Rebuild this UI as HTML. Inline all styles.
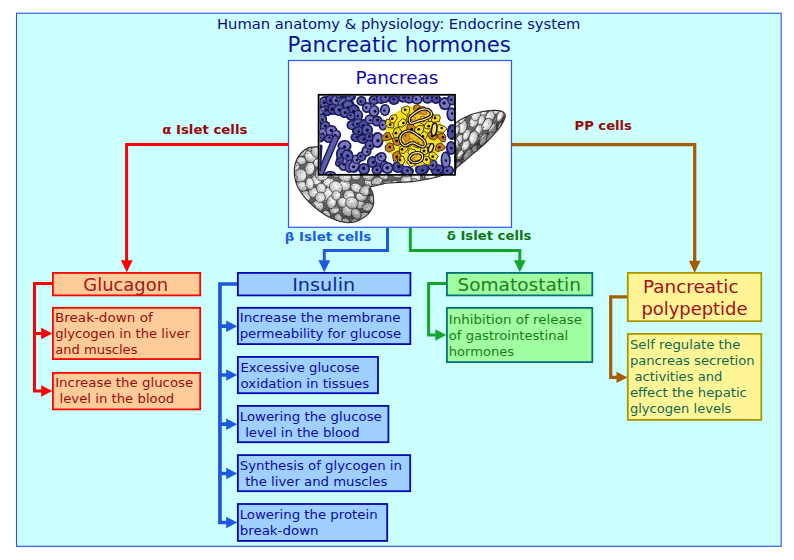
<!DOCTYPE html>
<html lang="en">
<head>
<meta charset="utf-8">
<title>Pancreatic hormones</title>
<style>
html,body{margin:0;padding:0;background:#ffffff;}
body{width:794px;height:560px;overflow:hidden;font-family:"DejaVu Sans","Liberation Sans",sans-serif;}
svg{display:block;}
text{white-space:pre;}
</style>
</head>
<body>
<svg width="794" height="560" viewBox="0 0 794 560">
<rect x="16.5" y="13.2" width="764.7" height="533.1" fill="#ccffff" stroke="#2456de" stroke-width="1.1"/>
<text x="217.0" y="28.8" font-size="14.67" fill="#0a0a86" font-family='"DejaVu Sans", "Liberation Sans", sans-serif' font-weight="normal" textLength="363.4" lengthAdjust="spacingAndGlyphs">Human anatomy &amp; physiology: Endocrine system</text>
<text x="287.6" y="51.5" font-size="21.3" fill="#10109a" font-family='"DejaVu Sans", "Liberation Sans", sans-serif' font-weight="normal" textLength="223.2" lengthAdjust="spacingAndGlyphs">Pancreatic hormones</text>
<path d="M289,144.5 H126.6 V262" fill="none" stroke="#ff0000" stroke-width="3" stroke-linejoin="miter"/>
<polygon points="120.9,260.3 132.7,260.3 126.8,272.3" fill="#ff0000"/>
<path d="M387.5,226 V250.4 H324.3 V261" fill="none" stroke="#1e5ae0" stroke-width="3" stroke-linejoin="miter"/>
<polygon points="318.4,260.3 330.2,260.3 324.3,272.3" fill="#1e5ae0"/>
<path d="M410.3,226 V250.4 H519.8 V261" fill="none" stroke="#16a52c" stroke-width="3" stroke-linejoin="miter"/>
<polygon points="513.9,260.3 525.7,260.3 519.8,272.3" fill="#16a52c"/>
<path d="M511,144.6 H694.7 V263" fill="none" stroke="#a65c02" stroke-width="3.2" stroke-linejoin="miter"/>
<polygon points="688.8,260.8 700.6,260.8 694.7,272.8" fill="#a65c02"/>
<rect x="288.5" y="60.5" width="223" height="166.8" fill="#ffffff" stroke="#2a5ae4" stroke-width="1.2"/>
<defs>
<filter id="mott" x="-5%" y="-5%" width="110%" height="110%" color-interpolation-filters="sRGB">
<feTurbulence type="fractalNoise" baseFrequency="0.6" numOctaves="2" seed="3" result="n"/>
<feColorMatrix in="n" type="matrix" values="0 0 0 0 1  0 0 0 0 1  0 0 0 0 1  2.0 0 0 0 -1.2" result="wl"/>
<feColorMatrix in="n" type="matrix" values="0 0 0 0 0.15  0 0 0 0 0.15  0 0 0 0 0.15  0 2.0 0 0 -1.22" result="dk"/>
<feMerge result="m"><feMergeNode in="SourceGraphic"/><feMergeNode in="wl"/><feMergeNode in="dk"/></feMerge>
<feComposite in="m" in2="SourceAlpha" operator="in" result="c"/><feGaussianBlur in="c" stdDeviation="0.5"/>
</filter>
<radialGradient id="gHead" cx="0.5" cy="0.45" r="0.6">
<stop offset="0" stop-color="#c8c8c8"/><stop offset="0.7" stop-color="#8c8c8c"/><stop offset="1" stop-color="#4a4a4a"/>
</radialGradient>
<linearGradient id="gTail" x1="0" y1="0" x2="0.6" y2="1">
<stop offset="0" stop-color="#b8b8b8"/><stop offset="0.6" stop-color="#909090"/><stop offset="1" stop-color="#3c3c3c"/>
</linearGradient>
<filter id="soft" x="-2%" y="-2%" width="104%" height="104%"><feGaussianBlur stdDeviation="0.45"/></filter>
<clipPath id="micro"><rect x="319.5" y="95.5" width="135" height="78.6"/></clipPath>
</defs>
<clipPath id="cpHead"><path d="M319,147 C313,146.5 309,147 306,149 C302,151.5 299,155 297,159 C294.5,164 293.8,170 294.5,176 C295.5,183 298,188.5 301,192.5 C304,197 307,200.5 310,203 C313,206 316,208.5 319.5,211 C323.5,214 327.5,216.5 332,218.6 C336.5,220.8 341,222 346,222.5 C350,223 354,222.5 357.5,221 C362,219 365.5,217 368.2,214 C371.5,210.5 373.3,207 373.7,203 C374,199.5 373.6,196.5 372.9,193.5 C372.2,191 371,189 369.8,187.2 C376,185.6 382,184 388,183 C396,182.6 404,182.4 412,181.6 C422,180.4 432,178.6 440.3,176 C446,174.2 451,172.2 456,169.8 L456,146 Z"/></clipPath><clipPath id="cpTail"><path d="M454,124.5 C457,121.5 460,119.5 464,117.7 C469,115 474,113.3 480,112 C486,110.7 491,110.2 496,110.4 C499.5,110.5 502.5,111.2 504,112.8 C505.5,114.2 505.6,116 505,117.7 C504,120.5 502.7,123 501,125.7 C498.5,129.5 496,132.5 493,135.3 C490,138.7 487,142 483.4,145 C479.5,148.4 476,151.5 472,154.6 C468.5,157.6 465,160.8 460.9,164.2 C459,166 457,167.5 454,169.5 Z"/></clipPath>
<radialGradient id="gLob" cx="0.42" cy="0.38" r="0.7"><stop offset="0" stop-color="#ffffff"/><stop offset="0.55" stop-color="#d2d2d2"/><stop offset="1" stop-color="#8e8e8e"/></radialGradient>
<radialGradient id="gShade" cx="0.5" cy="0.35" r="0.75"><stop offset="0.45" stop-color="#000" stop-opacity="0"/><stop offset="1" stop-color="#000" stop-opacity="0.45"/></radialGradient>
<g filter="url(#mott)">
<g clip-path="url(#cpHead)"><path d="M319,147 C313,146.5 309,147 306,149 C302,151.5 299,155 297,159 C294.5,164 293.8,170 294.5,176 C295.5,183 298,188.5 301,192.5 C304,197 307,200.5 310,203 C313,206 316,208.5 319.5,211 C323.5,214 327.5,216.5 332,218.6 C336.5,220.8 341,222 346,222.5 C350,223 354,222.5 357.5,221 C362,219 365.5,217 368.2,214 C371.5,210.5 373.3,207 373.7,203 C374,199.5 373.6,196.5 372.9,193.5 C372.2,191 371,189 369.8,187.2 C376,185.6 382,184 388,183 C396,182.6 404,182.4 412,181.6 C422,180.4 432,178.6 440.3,176 C446,174.2 451,172.2 456,169.8 L456,146 Z" fill="#626262"/>
<g fill="url(#gLob)" stroke="#3a3a3a" stroke-width="0.7"><ellipse cx="344.4" cy="156.1" rx="6.2" ry="4.4" transform="rotate(96 344.4 156.1)"/><ellipse cx="351.4" cy="148.6" rx="5.8" ry="4.1" transform="rotate(78 351.4 148.6)"/><ellipse cx="301.7" cy="151.3" rx="5.6" ry="5.3" transform="rotate(22 301.7 151.3)"/><ellipse cx="327.5" cy="194.2" rx="6.9" ry="6.0" transform="rotate(71 327.5 194.2)"/><ellipse cx="454.0" cy="147.7" rx="6.7" ry="5.2" transform="rotate(26 454.0 147.7)"/><ellipse cx="309.8" cy="168.7" rx="6.6" ry="4.9" transform="rotate(105 309.8 168.7)"/><ellipse cx="397.3" cy="173.8" rx="5.9" ry="4.3" transform="rotate(11 397.3 173.8)"/><ellipse cx="361.8" cy="169.1" rx="6.0" ry="5.0" transform="rotate(54 361.8 169.1)"/><ellipse cx="423.5" cy="199.9" rx="5.2" ry="4.5" transform="rotate(95 423.5 199.9)"/><ellipse cx="437.0" cy="202.4" rx="5.3" ry="5.3" transform="rotate(21 437.0 202.4)"/><ellipse cx="360.2" cy="204.6" rx="5.0" ry="4.2" transform="rotate(7 360.2 204.6)"/><ellipse cx="402.3" cy="205.2" rx="6.0" ry="5.8" transform="rotate(56 402.3 205.2)"/><ellipse cx="406.8" cy="191.5" rx="6.0" ry="5.0" transform="rotate(151 406.8 191.5)"/><ellipse cx="448.7" cy="181.9" rx="6.2" ry="4.4" transform="rotate(126 448.7 181.9)"/><ellipse cx="398.7" cy="223.4" rx="6.6" ry="5.2" transform="rotate(69 398.7 223.4)"/><ellipse cx="402.3" cy="145.8" rx="5.7" ry="4.3" transform="rotate(21 402.3 145.8)"/><ellipse cx="299.9" cy="205.5" rx="4.9" ry="3.8" transform="rotate(70 299.9 205.5)"/><ellipse cx="436.4" cy="150.4" rx="5.7" ry="4.9" transform="rotate(159 436.4 150.4)"/><ellipse cx="427.6" cy="213.1" rx="5.3" ry="4.3" transform="rotate(65 427.6 213.1)"/><ellipse cx="438.5" cy="220.6" rx="5.0" ry="3.7" transform="rotate(42 438.5 220.6)"/><ellipse cx="329.2" cy="182.8" rx="6.0" ry="4.7" transform="rotate(1 329.2 182.8)"/><ellipse cx="385.1" cy="220.2" rx="6.3" ry="5.3" transform="rotate(111 385.1 220.2)"/><ellipse cx="355.9" cy="175.9" rx="4.8" ry="4.3" transform="rotate(11 355.9 175.9)"/><ellipse cx="301.3" cy="160.7" rx="5.0" ry="4.0" transform="rotate(9 301.3 160.7)"/><ellipse cx="290.0" cy="156.1" rx="4.8" ry="3.9" transform="rotate(5 290.0 156.1)"/><ellipse cx="436.9" cy="193.1" rx="5.0" ry="3.8" transform="rotate(63 436.9 193.1)"/><ellipse cx="368.3" cy="182.7" rx="4.8" ry="3.5" transform="rotate(62 368.3 182.7)"/><ellipse cx="334.5" cy="210.3" rx="5.0" ry="3.5" transform="rotate(171 334.5 210.3)"/><ellipse cx="378.7" cy="155.7" rx="5.9" ry="4.2" transform="rotate(95 378.7 155.7)"/><ellipse cx="454.4" cy="213.1" rx="6.3" ry="4.9" transform="rotate(66 454.4 213.1)"/><ellipse cx="318.1" cy="205.8" rx="5.9" ry="5.5" transform="rotate(59 318.1 205.8)"/><ellipse cx="414.3" cy="162.1" rx="5.8" ry="4.7" transform="rotate(5 414.3 162.1)"/><ellipse cx="294.7" cy="166.4" rx="5.2" ry="4.7" transform="rotate(172 294.7 166.4)"/><ellipse cx="365.1" cy="219.0" rx="7.0" ry="6.9" transform="rotate(66 365.1 219.0)"/><ellipse cx="327.0" cy="162.1" rx="5.1" ry="3.9" transform="rotate(112 327.0 162.1)"/><ellipse cx="441.3" cy="211.2" rx="5.8" ry="5.2" transform="rotate(144 441.3 211.2)"/><ellipse cx="304.2" cy="196.8" rx="6.8" ry="6.3" transform="rotate(135 304.2 196.8)"/><ellipse cx="370.3" cy="158.3" rx="6.5" ry="5.2" transform="rotate(144 370.3 158.3)"/><ellipse cx="311.3" cy="156.1" rx="6.8" ry="6.4" transform="rotate(26 311.3 156.1)"/><ellipse cx="428.9" cy="222.4" rx="6.2" ry="5.0" transform="rotate(99 428.9 222.4)"/><ellipse cx="312.0" cy="145.1" rx="6.9" ry="6.2" transform="rotate(95 312.0 145.1)"/><ellipse cx="339.2" cy="163.2" rx="6.0" ry="4.7" transform="rotate(75 339.2 163.2)"/><ellipse cx="312.0" cy="216.8" rx="5.4" ry="4.6" transform="rotate(105 312.0 216.8)"/><ellipse cx="441.9" cy="177.7" rx="6.8" ry="5.8" transform="rotate(96 441.9 177.7)"/><ellipse cx="377.9" cy="145.5" rx="5.7" ry="4.3" transform="rotate(1 377.9 145.5)"/><ellipse cx="424.3" cy="157.8" rx="5.7" ry="5.3" transform="rotate(100 424.3 157.8)"/><ellipse cx="344.8" cy="185.5" rx="5.9" ry="5.5" transform="rotate(19 344.8 185.5)"/><ellipse cx="384.1" cy="163.9" rx="5.3" ry="4.9" transform="rotate(91 384.1 163.9)"/><ellipse cx="384.4" cy="204.8" rx="6.8" ry="5.7" transform="rotate(110 384.4 204.8)"/><ellipse cx="406.4" cy="180.2" rx="5.9" ry="5.0" transform="rotate(169 406.4 180.2)"/><ellipse cx="407.5" cy="214.1" rx="6.9" ry="5.3" transform="rotate(101 407.5 214.1)"/><ellipse cx="364.3" cy="149.8" rx="5.2" ry="3.7" transform="rotate(121 364.3 149.8)"/><ellipse cx="400.9" cy="155.4" rx="6.7" ry="6.7" transform="rotate(40 400.9 155.4)"/><ellipse cx="371.9" cy="223.2" rx="6.6" ry="4.9" transform="rotate(78 371.9 223.2)"/><ellipse cx="376.6" cy="171.1" rx="5.1" ry="4.0" transform="rotate(130 376.6 171.1)"/><ellipse cx="293.3" cy="188.3" rx="5.7" ry="4.0" transform="rotate(60 293.3 188.3)"/><ellipse cx="394.8" cy="185.0" rx="4.8" ry="4.7" transform="rotate(142 394.8 185.0)"/><ellipse cx="334.6" cy="147.2" rx="6.5" ry="5.1" transform="rotate(23 334.6 147.2)"/><ellipse cx="302.2" cy="219.1" rx="6.1" ry="5.8" transform="rotate(15 302.2 219.1)"/><ellipse cx="445.7" cy="165.4" rx="4.9" ry="4.2" transform="rotate(43 445.7 165.4)"/><ellipse cx="447.0" cy="152.5" rx="6.6" ry="5.4" transform="rotate(89 447.0 152.5)"/><ellipse cx="430.2" cy="175.4" rx="5.8" ry="5.3" transform="rotate(177 430.2 175.4)"/><ellipse cx="347.6" cy="210.6" rx="6.3" ry="5.6" transform="rotate(73 347.6 210.6)"/><ellipse cx="317.4" cy="150.8" rx="6.6" ry="6.4" transform="rotate(121 317.4 150.8)"/><ellipse cx="316.5" cy="179.7" rx="5.2" ry="5.2" transform="rotate(175 316.5 179.7)"/><ellipse cx="344.8" cy="222.8" rx="5.0" ry="4.5" transform="rotate(116 344.8 222.8)"/><ellipse cx="374.7" cy="210.8" rx="6.5" ry="6.2" transform="rotate(105 374.7 210.8)"/><ellipse cx="406.5" cy="162.4" rx="4.7" ry="3.5" transform="rotate(65 406.5 162.4)"/><ellipse cx="383.8" cy="194.2" rx="6.1" ry="5.5" transform="rotate(88 383.8 194.2)"/><ellipse cx="290.6" cy="207.8" rx="6.4" ry="5.4" transform="rotate(96 290.6 207.8)"/><ellipse cx="414.3" cy="222.1" rx="5.8" ry="4.7" transform="rotate(86 414.3 222.1)"/><ellipse cx="393.7" cy="195.4" rx="4.8" ry="3.6" transform="rotate(46 393.7 195.4)"/><ellipse cx="376.8" cy="181.2" rx="5.7" ry="4.2" transform="rotate(161 376.8 181.2)"/><ellipse cx="323.5" cy="222.3" rx="6.8" ry="4.8" transform="rotate(83 323.5 222.3)"/><ellipse cx="427.8" cy="184.7" rx="6.7" ry="6.1" transform="rotate(42 427.8 184.7)"/><ellipse cx="294.2" cy="144.3" rx="5.8" ry="4.8" transform="rotate(54 294.2 144.3)"/><ellipse cx="445.6" cy="201.0" rx="6.8" ry="5.3" transform="rotate(67 445.6 201.0)"/><ellipse cx="356.0" cy="223.9" rx="6.0" ry="4.9" transform="rotate(77 356.0 223.9)"/><ellipse cx="338.0" cy="218.8" rx="5.2" ry="4.1" transform="rotate(92 338.0 218.8)"/><ellipse cx="321.9" cy="173.9" rx="6.9" ry="6.7" transform="rotate(146 321.9 173.9)"/><ellipse cx="410.9" cy="148.0" rx="6.4" ry="5.3" transform="rotate(135 410.9 148.0)"/><ellipse cx="347.7" cy="167.8" rx="6.4" ry="6.3" transform="rotate(47 347.7 167.8)"/><ellipse cx="383.6" cy="175.5" rx="5.0" ry="3.7" transform="rotate(37 383.6 175.5)"/><ellipse cx="457.4" cy="180.0" rx="4.9" ry="3.7" transform="rotate(16 457.4 180.0)"/><ellipse cx="415.9" cy="177.0" rx="5.6" ry="4.8" transform="rotate(68 415.9 177.0)"/><ellipse cx="395.8" cy="213.0" rx="5.1" ry="4.0" transform="rotate(45 395.8 213.0)"/><ellipse cx="388.6" cy="144.0" rx="5.5" ry="5.4" transform="rotate(149 388.6 144.0)"/><ellipse cx="301.8" cy="186.0" rx="6.0" ry="4.9" transform="rotate(40 301.8 186.0)"/><ellipse cx="373.7" cy="198.0" rx="5.6" ry="4.4" transform="rotate(120 373.7 198.0)"/><ellipse cx="356.1" cy="161.0" rx="6.9" ry="5.2" transform="rotate(9 356.1 161.0)"/><ellipse cx="300.1" cy="175.5" rx="6.8" ry="6.5" transform="rotate(132 300.1 175.5)"/><ellipse cx="295.4" cy="197.2" rx="5.5" ry="4.5" transform="rotate(60 295.4 197.2)"/><ellipse cx="337.0" cy="172.1" rx="6.9" ry="5.1" transform="rotate(174 337.0 172.1)"/><ellipse cx="393.7" cy="165.0" rx="6.3" ry="5.0" transform="rotate(50 393.7 165.0)"/><ellipse cx="450.7" cy="220.3" rx="5.5" ry="4.3" transform="rotate(77 450.7 220.3)"/><ellipse cx="414.1" cy="209.8" rx="6.5" ry="5.7" transform="rotate(59 414.1 209.8)"/><ellipse cx="421.4" cy="150.3" rx="5.1" ry="4.7" transform="rotate(45 421.4 150.3)"/><ellipse cx="456.0" cy="165.2" rx="4.8" ry="3.5" transform="rotate(90 456.0 165.2)"/><ellipse cx="431.3" cy="167.5" rx="6.0" ry="4.8" transform="rotate(133 431.3 167.5)"/><ellipse cx="344.8" cy="175.7" rx="7.0" ry="5.9" transform="rotate(42 344.8 175.7)"/><ellipse cx="453.5" cy="190.7" rx="6.8" ry="5.5" transform="rotate(156 453.5 190.7)"/><ellipse cx="324.2" cy="144.9" rx="5.4" ry="4.9" transform="rotate(33 324.2 144.9)"/><ellipse cx="356.4" cy="188.0" rx="6.1" ry="4.5" transform="rotate(29 356.4 188.0)"/><ellipse cx="331.5" cy="202.0" rx="6.8" ry="4.8" transform="rotate(101 331.5 202.0)"/><ellipse cx="361.5" cy="196.7" rx="5.7" ry="4.7" transform="rotate(4 361.5 196.7)"/><ellipse cx="457.3" cy="202.6" rx="6.6" ry="5.0" transform="rotate(177 457.3 202.6)"/><ellipse cx="342.5" cy="144.1" rx="4.7" ry="3.5" transform="rotate(111 342.5 144.1)"/><ellipse cx="348.9" cy="195.6" rx="5.7" ry="5.6" transform="rotate(132 348.9 195.6)"/><ellipse cx="328.0" cy="152.4" rx="5.2" ry="3.7" transform="rotate(60 328.0 152.4)"/><ellipse cx="326.5" cy="214.4" rx="4.6" ry="3.6" transform="rotate(42 326.5 214.4)"/><ellipse cx="416.5" cy="195.7" rx="5.4" ry="4.3" transform="rotate(28 416.5 195.7)"/><ellipse cx="387.3" cy="154.1" rx="5.7" ry="5.5" transform="rotate(43 387.3 154.1)"/><ellipse cx="313.8" cy="192.3" rx="5.6" ry="5.1" transform="rotate(163 313.8 192.3)"/><ellipse cx="407.3" cy="172.2" rx="5.2" ry="4.0" transform="rotate(133 407.3 172.2)"/><ellipse cx="291.9" cy="220.1" rx="6.2" ry="4.8" transform="rotate(18 291.9 220.1)"/><ellipse cx="423.0" cy="170.5" rx="5.4" ry="4.2" transform="rotate(106 423.0 170.5)"/><ellipse cx="444.8" cy="192.7" rx="6.2" ry="5.8" transform="rotate(164 444.8 192.7)"/><ellipse cx="310.0" cy="208.8" rx="6.0" ry="5.8" transform="rotate(80 310.0 208.8)"/><ellipse cx="342.3" cy="202.4" rx="5.0" ry="4.8" transform="rotate(88 342.3 202.4)"/><ellipse cx="318.3" cy="163.1" rx="4.9" ry="4.5" transform="rotate(2 318.3 163.1)"/><ellipse cx="386.8" cy="185.8" rx="6.3" ry="4.6" transform="rotate(157 386.8 185.8)"/><ellipse cx="335.9" cy="187.4" rx="6.8" ry="6.0" transform="rotate(45 335.9 187.4)"/><ellipse cx="321.1" cy="188.3" rx="5.3" ry="4.8" transform="rotate(69 321.1 188.3)"/><ellipse cx="356.1" cy="213.8" rx="6.1" ry="4.4" transform="rotate(59 356.1 213.8)"/><ellipse cx="414.2" cy="184.7" rx="6.1" ry="4.9" transform="rotate(99 414.2 184.7)"/><ellipse cx="366.1" cy="190.3" rx="6.7" ry="5.1" transform="rotate(159 366.1 190.3)"/><ellipse cx="435.0" cy="158.6" rx="6.7" ry="6.7" transform="rotate(54 435.0 158.6)"/><ellipse cx="309.7" cy="183.7" rx="5.9" ry="4.3" transform="rotate(84 309.7 183.7)"/><ellipse cx="444.7" cy="144.9" rx="6.9" ry="5.6" transform="rotate(73 444.7 144.9)"/><ellipse cx="450.9" cy="172.9" rx="6.2" ry="5.5" transform="rotate(68 450.9 172.9)"/><ellipse cx="409.2" cy="199.3" rx="5.3" ry="3.9" transform="rotate(104 409.2 199.3)"/><ellipse cx="429.1" cy="144.0" rx="6.1" ry="4.7" transform="rotate(82 429.1 144.0)"/><ellipse cx="456.4" cy="155.9" rx="6.7" ry="5.3" transform="rotate(31 456.4 155.9)"/><ellipse cx="422.9" cy="191.2" rx="6.2" ry="5.0" transform="rotate(170 422.9 191.2)"/><ellipse cx="335.4" cy="155.8" rx="5.5" ry="4.9" transform="rotate(172 335.4 155.8)"/><ellipse cx="374.5" cy="190.0" rx="5.9" ry="4.9" transform="rotate(98 374.5 190.0)"/><ellipse cx="401.3" cy="197.2" rx="5.7" ry="4.7" transform="rotate(42 401.3 197.2)"/><ellipse cx="368.0" cy="206.9" rx="5.7" ry="4.3" transform="rotate(172 368.0 206.9)"/><ellipse cx="336.2" cy="195.4" rx="4.8" ry="4.5" transform="rotate(89 336.2 195.4)"/><ellipse cx="292.0" cy="178.8" rx="5.5" ry="3.9" transform="rotate(155 292.0 178.8)"/><ellipse cx="420.1" cy="216.3" rx="5.6" ry="5.5" transform="rotate(45 420.1 216.3)"/><ellipse cx="370.5" cy="166.2" rx="6.9" ry="6.5" transform="rotate(122 370.5 166.2)"/><ellipse cx="438.0" cy="185.3" rx="6.5" ry="5.9" transform="rotate(22 438.0 185.3)"/><ellipse cx="393.9" cy="203.9" rx="6.6" ry="5.5" transform="rotate(81 393.9 203.9)"/><ellipse cx="352.0" cy="203.0" rx="6.5" ry="5.9" transform="rotate(33 352.0 203.0)"/><ellipse cx="331.7" cy="223.8" rx="5.9" ry="4.5" transform="rotate(33 331.7 223.8)"/><ellipse cx="394.9" cy="149.3" rx="5.3" ry="3.8" transform="rotate(90 394.9 149.3)"/><ellipse cx="368.4" cy="174.8" rx="6.2" ry="6.0" transform="rotate(22 368.4 174.8)"/><ellipse cx="320.1" cy="197.3" rx="5.2" ry="5.1" transform="rotate(144 320.1 197.3)"/><ellipse cx="438.9" cy="170.1" rx="5.9" ry="4.2" transform="rotate(0 438.9 170.1)"/><ellipse cx="297.0" cy="212.9" rx="4.8" ry="3.5" transform="rotate(77 297.0 212.9)"/><ellipse cx="358.5" cy="144.1" rx="6.6" ry="5.8" transform="rotate(34 358.5 144.1)"/></g>
<rect x="290" y="140" width="90" height="88" fill="url(#gShade)"/>
<path d="M368,188 C385,190 420,186 456,172 L456,186 L368,196 Z" fill="#000" opacity="0.35"/>
</g>
<g clip-path="url(#cpTail)"><path d="M454,124.5 C457,121.5 460,119.5 464,117.7 C469,115 474,113.3 480,112 C486,110.7 491,110.2 496,110.4 C499.5,110.5 502.5,111.2 504,112.8 C505.5,114.2 505.6,116 505,117.7 C504,120.5 502.7,123 501,125.7 C498.5,129.5 496,132.5 493,135.3 C490,138.7 487,142 483.4,145 C479.5,148.4 476,151.5 472,154.6 C468.5,157.6 465,160.8 460.9,164.2 C459,166 457,167.5 454,169.5 Z" fill="#626262"/>
<g fill="url(#gLob)" stroke="#3a3a3a" stroke-width="0.7"><ellipse cx="474.4" cy="149.8" rx="5.2" ry="3.1" transform="rotate(-69 474.4 149.8)"/><ellipse cx="491.7" cy="154.3" rx="5.7" ry="2.9" transform="rotate(-55 491.7 154.3)"/><ellipse cx="476.8" cy="171.8" rx="5.6" ry="3.9" transform="rotate(-72 476.8 171.8)"/><ellipse cx="460.3" cy="154.8" rx="5.4" ry="2.8" transform="rotate(-65 460.3 154.8)"/><ellipse cx="483.9" cy="139.6" rx="6.6" ry="3.8" transform="rotate(-62 483.9 139.6)"/><ellipse cx="500.5" cy="115.8" rx="6.6" ry="3.3" transform="rotate(-70 500.5 115.8)"/><ellipse cx="462.7" cy="126.9" rx="6.8" ry="4.3" transform="rotate(-74 462.7 126.9)"/><ellipse cx="474.2" cy="121.5" rx="6.3" ry="4.3" transform="rotate(-59 474.2 121.5)"/><ellipse cx="500.8" cy="126.7" rx="5.4" ry="3.2" transform="rotate(-72 500.8 126.7)"/><ellipse cx="469.1" cy="169.5" rx="4.9" ry="3.4" transform="rotate(-70 469.1 169.5)"/><ellipse cx="486.7" cy="163.0" rx="6.4" ry="3.3" transform="rotate(-59 486.7 163.0)"/><ellipse cx="476.2" cy="114.2" rx="7.0" ry="4.8" transform="rotate(-70 476.2 114.2)"/><ellipse cx="455.7" cy="110.4" rx="6.3" ry="3.8" transform="rotate(-60 455.7 110.4)"/><ellipse cx="456.9" cy="122.7" rx="6.2" ry="3.3" transform="rotate(-57 456.9 122.7)"/><ellipse cx="471.5" cy="161.5" rx="7.0" ry="3.7" transform="rotate(-75 471.5 161.5)"/><ellipse cx="490.4" cy="116.0" rx="6.5" ry="4.2" transform="rotate(-57 490.4 116.0)"/><ellipse cx="492.5" cy="130.0" rx="6.8" ry="3.7" transform="rotate(-68 492.5 130.0)"/><ellipse cx="459.6" cy="139.4" rx="5.6" ry="3.3" transform="rotate(-63 459.6 139.4)"/><ellipse cx="484.1" cy="112.7" rx="5.1" ry="2.9" transform="rotate(-63 484.1 112.7)"/><ellipse cx="492.9" cy="170.6" rx="5.1" ry="3.5" transform="rotate(-68 492.9 170.6)"/><ellipse cx="499.4" cy="167.0" rx="6.2" ry="3.3" transform="rotate(-72 499.4 167.0)"/><ellipse cx="498.4" cy="137.2" rx="6.9" ry="4.6" transform="rotate(-72 498.4 137.2)"/><ellipse cx="504.7" cy="132.6" rx="6.8" ry="3.8" transform="rotate(-69 504.7 132.6)"/><ellipse cx="457.7" cy="165.7" rx="5.4" ry="2.9" transform="rotate(-59 457.7 165.7)"/><ellipse cx="466.5" cy="134.7" rx="6.0" ry="3.3" transform="rotate(-64 466.5 134.7)"/><ellipse cx="478.9" cy="129.3" rx="5.5" ry="3.6" transform="rotate(-66 478.9 129.3)"/><ellipse cx="507.5" cy="140.6" rx="5.5" ry="3.5" transform="rotate(-73 507.5 140.6)"/><ellipse cx="454.8" cy="144.9" rx="6.0" ry="4.0" transform="rotate(-73 454.8 144.9)"/><ellipse cx="496.1" cy="145.2" rx="6.2" ry="4.1" transform="rotate(-67 496.1 145.2)"/><ellipse cx="452.8" cy="171.2" rx="5.5" ry="3.7" transform="rotate(-67 452.8 171.2)"/><ellipse cx="507.6" cy="156.6" rx="4.9" ry="2.9" transform="rotate(-68 507.6 156.6)"/><ellipse cx="497.8" cy="108.4" rx="6.6" ry="3.5" transform="rotate(-59 497.8 108.4)"/><ellipse cx="473.5" cy="137.5" rx="6.9" ry="4.4" transform="rotate(-73 473.5 137.5)"/><ellipse cx="494.4" cy="161.5" rx="6.4" ry="4.4" transform="rotate(-64 494.4 161.5)"/><ellipse cx="507.6" cy="113.0" rx="5.0" ry="3.4" transform="rotate(-71 507.6 113.0)"/><ellipse cx="465.8" cy="145.4" rx="5.8" ry="3.6" transform="rotate(-58 465.8 145.4)"/><ellipse cx="466.1" cy="111.6" rx="5.2" ry="3.4" transform="rotate(-62 466.1 111.6)"/><ellipse cx="482.3" cy="154.6" rx="6.5" ry="3.6" transform="rotate(-71 482.3 154.6)"/><ellipse cx="507.8" cy="168.1" rx="5.0" ry="3.4" transform="rotate(-68 507.8 168.1)"/><ellipse cx="462.1" cy="117.9" rx="5.9" ry="3.3" transform="rotate(-69 462.1 117.9)"/><ellipse cx="452.5" cy="158.7" rx="6.2" ry="3.7" transform="rotate(-67 452.5 158.7)"/><ellipse cx="487.2" cy="124.4" rx="6.8" ry="4.6" transform="rotate(-57 487.2 124.4)"/><ellipse cx="491.1" cy="137.9" rx="6.5" ry="4.1" transform="rotate(-68 491.1 137.9)"/><ellipse cx="501.3" cy="150.6" rx="5.0" ry="3.0" transform="rotate(-55 501.3 150.6)"/><ellipse cx="485.3" cy="148.0" rx="6.1" ry="4.0" transform="rotate(-58 485.3 148.0)"/><ellipse cx="467.8" cy="154.9" rx="7.0" ry="3.5" transform="rotate(-61 467.8 154.9)"/><ellipse cx="505.4" cy="121.2" rx="5.3" ry="2.9" transform="rotate(-67 505.4 121.2)"/><ellipse cx="455.8" cy="131.1" rx="6.0" ry="3.0" transform="rotate(-56 455.8 131.1)"/><ellipse cx="486.0" cy="171.7" rx="6.7" ry="4.1" transform="rotate(-69 486.0 171.7)"/><ellipse cx="481.6" cy="119.8" rx="5.4" ry="3.1" transform="rotate(-66 481.6 119.8)"/></g>
<path d="M454,160 C468,150 488,134 503,116 L512,130 L470,175 L454,175 Z" fill="#000" opacity="0.38"/>
</g>
</g>
<path d="M319,147 C313,146.5 309,147 306,149 C302,151.5 299,155 297,159 C294.5,164 293.8,170 294.5,176 C295.5,183 298,188.5 301,192.5 C304,197 307,200.5 310,203 C313,206 316,208.5 319.5,211 C323.5,214 327.5,216.5 332,218.6 C336.5,220.8 341,222 346,222.5 C350,223 354,222.5 357.5,221 C362,219 365.5,217 368.2,214 C371.5,210.5 373.3,207 373.7,203 C374,199.5 373.6,196.5 372.9,193.5 C372.2,191 371,189 369.8,187.2 C376,185.6 382,184 388,183 C396,182.6 404,182.4 412,181.6 C422,180.4 432,178.6 440.3,176 C446,174.2 451,172.2 456,169.8 L456,146 Z" fill="none" stroke="#2c2c2c" stroke-width="1.1"/>
<path d="M454,124.5 C457,121.5 460,119.5 464,117.7 C469,115 474,113.3 480,112 C486,110.7 491,110.2 496,110.4 C499.5,110.5 502.5,111.2 504,112.8 C505.5,114.2 505.6,116 505,117.7 C504,120.5 502.7,123 501,125.7 C498.5,129.5 496,132.5 493,135.3 C490,138.7 487,142 483.4,145 C479.5,148.4 476,151.5 472,154.6 C468.5,157.6 465,160.8 460.9,164.2 C459,166 457,167.5 454,169.5 Z" fill="none" stroke="#2c2c2c" stroke-width="1.1"/>
<rect x="318.6" y="94.8" width="136.4" height="80" fill="#ffffff"/>
<g clip-path="url(#micro)"><g filter="url(#soft)">
<ellipse cx="325" cy="103" rx="6.1" ry="7.1" fill="#242466"/>
<ellipse cx="331" cy="100" rx="6.1" ry="6.1" fill="#242466"/>
<ellipse cx="337" cy="101" rx="6.1" ry="7.1" fill="#242466"/>
<ellipse cx="343" cy="104" rx="6.1" ry="8.1" fill="#242466"/>
<ellipse cx="349" cy="107" rx="6.1" ry="8.1" fill="#242466"/>
<ellipse cx="354" cy="111" rx="6.1" ry="7.1" fill="#242466"/>
<ellipse cx="358" cy="115.5" rx="5.1" ry="6.1" fill="#242466"/>
<ellipse cx="327" cy="110.5" rx="6.1" ry="5.6" fill="#242466"/>
<ellipse cx="333" cy="109" rx="6.1" ry="6.1" fill="#242466"/>
<ellipse cx="339" cy="110" rx="6.1" ry="6.1" fill="#242466"/>
<ellipse cx="345" cy="112.5" rx="6.1" ry="5.6" fill="#242466"/>
<ellipse cx="351" cy="116" rx="5.1" ry="4.6" fill="#242466"/>
<ellipse cx="321.5" cy="111" rx="3.6" ry="6.1" fill="#242466"/>
<ellipse cx="322.5" cy="119" rx="4.6" ry="6.1" fill="#242466"/>
<ellipse cx="325" cy="126.5" rx="5.6" ry="6.1" fill="#242466"/>
<ellipse cx="331" cy="131" rx="6.6" ry="6.1" fill="#242466"/>
<ellipse cx="336" cy="135" rx="5.1" ry="5.6" fill="#242466"/>
<ellipse cx="323" cy="133" rx="4.6" ry="5.6" fill="#242466"/>
<ellipse cx="329" cy="138.5" rx="5.6" ry="4.6" fill="#242466"/>
<ellipse cx="352" cy="125" rx="5.6" ry="5.1" fill="#242466"/>
<ellipse cx="358" cy="123" rx="6.1" ry="5.1" fill="#242466"/>
<ellipse cx="363.5" cy="125" rx="5.6" ry="6.1" fill="#242466"/>
<ellipse cx="367" cy="130" rx="6.1" ry="6.1" fill="#242466"/>
<ellipse cx="358" cy="131" rx="6.1" ry="5.1" fill="#242466"/>
<ellipse cx="356" cy="137.5" rx="5.6" ry="4.6" fill="#242466"/>
<ellipse cx="361.5" cy="101" rx="5.1" ry="5.1" fill="#242466"/>
<ellipse cx="367" cy="107.5" rx="5.1" ry="5.6" fill="#242466"/>
<ellipse cx="374" cy="100" rx="5.6" ry="5.1" fill="#242466"/>
<ellipse cx="374" cy="111" rx="5.6" ry="6.1" fill="#242466"/>
<ellipse cx="381" cy="99" rx="5.6" ry="5.1" fill="#242466"/>
<ellipse cx="385" cy="110" rx="5.1" ry="6.1" fill="#242466"/>
<ellipse cx="350" cy="97" rx="6.1" ry="4.1" fill="#242466"/>
<ellipse cx="340" cy="95.5" rx="5.1" ry="3.1" fill="#242466"/>
<ellipse cx="370" cy="119.5" rx="5.6" ry="5.1" fill="#242466"/>
<ellipse cx="377" cy="121" rx="5.6" ry="5.6" fill="#242466"/>
<ellipse cx="383" cy="125" rx="4.6" ry="5.6" fill="#242466"/>
<ellipse cx="321" cy="137.5" rx="3.7" ry="5.1" fill="#242466"/>
<ellipse cx="344.5" cy="146" rx="7.1" ry="6.1" fill="#242466"/>
<ellipse cx="341.5" cy="154" rx="5.6" ry="7.1" fill="#242466"/>
<ellipse cx="347.5" cy="156" rx="6.1" ry="7.1" fill="#242466"/>
<ellipse cx="343.5" cy="164" rx="5.6" ry="7.1" fill="#242466"/>
<ellipse cx="349.5" cy="166" rx="5.1" ry="7.1" fill="#242466"/>
<ellipse cx="339.5" cy="161.5" rx="3.9" ry="6.1" fill="#242466"/>
<ellipse cx="354" cy="166" rx="5.6" ry="7.1" fill="#242466"/>
<ellipse cx="356.5" cy="159.5" rx="5.1" ry="5.1" fill="#242466"/>
<ellipse cx="361.5" cy="156.5" rx="5.1" ry="5.1" fill="#242466"/>
<ellipse cx="366.5" cy="151" rx="5.1" ry="5.6" fill="#242466"/>
<ellipse cx="369.5" cy="145" rx="5.1" ry="5.6" fill="#242466"/>
<ellipse cx="363" cy="139" rx="6.1" ry="5.1" fill="#242466"/>
<ellipse cx="369" cy="137" rx="5.1" ry="5.1" fill="#242466"/>
<ellipse cx="377.5" cy="140" rx="6.1" ry="8.1" fill="#242466"/>
<ellipse cx="372.5" cy="162" rx="5.6" ry="6.1" fill="#242466"/>
<ellipse cx="380" cy="159" rx="6.1" ry="6.1" fill="#242466"/>
<ellipse cx="384.5" cy="166.5" rx="5.1" ry="6.1" fill="#242466"/>
<ellipse cx="377" cy="170" rx="5.6" ry="5.1" fill="#242466"/>
<ellipse cx="364" cy="169" rx="6.1" ry="6.1" fill="#242466"/>
<ellipse cx="330" cy="174.5" rx="6.1" ry="3.6" fill="#242466"/>
<ellipse cx="385" cy="98" rx="5.6" ry="5.1" fill="#242466"/>
<ellipse cx="394" cy="100" rx="5.6" ry="5.1" fill="#242466"/>
<ellipse cx="403" cy="98" rx="5.1" ry="4.6" fill="#242466"/>
<ellipse cx="409" cy="98.7" rx="5.1" ry="5.1" fill="#242466"/>
<ellipse cx="417" cy="99.5" rx="5.6" ry="5.1" fill="#242466"/>
<ellipse cx="427.6" cy="98.7" rx="5.6" ry="5.1" fill="#242466"/>
<ellipse cx="436" cy="99" rx="5.1" ry="5.1" fill="#242466"/>
<ellipse cx="444.9" cy="103.6" rx="6.1" ry="6.6" fill="#242466"/>
<ellipse cx="452" cy="99.5" rx="5.1" ry="6.1" fill="#242466"/>
<ellipse cx="451.5" cy="114.3" rx="5.1" ry="7.1" fill="#242466"/>
<ellipse cx="452" cy="132" rx="5.1" ry="8.1" fill="#242466"/>
<ellipse cx="451" cy="148" rx="5.1" ry="7.1" fill="#242466"/>
<ellipse cx="445.7" cy="160.3" rx="5.1" ry="9.1" fill="#242466"/>
<ellipse cx="437.5" cy="170" rx="7.1" ry="5.6" fill="#242466"/>
<ellipse cx="421.9" cy="169.5" rx="7.1" ry="5.6" fill="#242466"/>
<ellipse cx="407" cy="171" rx="7.1" ry="5.1" fill="#242466"/>
<ellipse cx="398" cy="167" rx="6.1" ry="6.1" fill="#242466"/>
<ellipse cx="387.4" cy="168" rx="6.1" ry="6.1" fill="#242466"/>
<ellipse cx="381.6" cy="157" rx="5.1" ry="5.1" fill="#242466"/>
<ellipse cx="432.6" cy="165" rx="5.1" ry="6.1" fill="#242466"/>
<ellipse cx="448" cy="170.5" rx="6.1" ry="5.1" fill="#242466"/>
<ellipse cx="325" cy="103" rx="5" ry="6" transform="rotate(-33 325 103)" fill="#5c5cae" stroke="#1a1a54" stroke-width="1.2"/><circle cx="324.3" cy="102.6" r="1.7" fill="#0c0c30"/>
<ellipse cx="331" cy="100" rx="5" ry="5" transform="rotate(-16 331 100)" fill="#4c4ca0" stroke="#1a1a54" stroke-width="1.2"/><circle cx="330.8" cy="100.6" r="1.7" fill="#0c0c30"/>
<ellipse cx="337" cy="101" rx="5" ry="6" transform="rotate(-38 337 101)" fill="#7878c2" stroke="#1a1a54" stroke-width="1.2"/><circle cx="336.2" cy="100.5" r="1.7" fill="#0c0c30"/>
<ellipse cx="343" cy="104" rx="5" ry="7" transform="rotate(30 343 104)" fill="#5c5cae" stroke="#1a1a54" stroke-width="1.2"/><circle cx="343.2" cy="104.0" r="1.7" fill="#0c0c30"/>
<ellipse cx="349" cy="107" rx="5" ry="7" transform="rotate(-30 349 107)" fill="#5c5cae" stroke="#1a1a54" stroke-width="1.2"/><circle cx="348.1" cy="107.4" r="1.7" fill="#0c0c30"/>
<ellipse cx="354" cy="111" rx="5" ry="6" transform="rotate(-21 354 111)" fill="#4c4ca0" stroke="#1a1a54" stroke-width="1.2"/><circle cx="353.6" cy="111.7" r="1.7" fill="#0c0c30"/>
<ellipse cx="358" cy="115.5" rx="4" ry="5" transform="rotate(-2 358 115.5)" fill="#5c5cae" stroke="#1a1a54" stroke-width="1.2"/><circle cx="357.8" cy="116.1" r="1.3" fill="#0c0c30"/>
<ellipse cx="327" cy="110.5" rx="5" ry="4.5" transform="rotate(26 327 110.5)" fill="#4c4ca0" stroke="#1a1a54" stroke-width="1.2"/><circle cx="326.4" cy="110.0" r="1.5" fill="#0c0c30"/>
<ellipse cx="333" cy="109" rx="5" ry="5" transform="rotate(13 333 109)" fill="#4c4ca0" stroke="#1a1a54" stroke-width="1.2"/><circle cx="332.4" cy="109.3" r="1.7" fill="#0c0c30"/>
<ellipse cx="339" cy="110" rx="5" ry="5" transform="rotate(-39 339 110)" fill="#5c5cae" stroke="#1a1a54" stroke-width="1.2"/><circle cx="339.3" cy="109.9" r="1.7" fill="#0c0c30"/>
<ellipse cx="345" cy="112.5" rx="5" ry="4.5" transform="rotate(40 345 112.5)" fill="#5c5cae" stroke="#1a1a54" stroke-width="1.2"/><circle cx="345.2" cy="112.4" r="1.5" fill="#0c0c30"/>
<ellipse cx="351" cy="116" rx="4" ry="3.5" transform="rotate(25 351 116)" fill="#5c5cae" stroke="#1a1a54" stroke-width="1.2"/><circle cx="350.4" cy="115.2" r="1.2" fill="#0c0c30"/>
<ellipse cx="321.5" cy="111" rx="2.5" ry="5" transform="rotate(37 321.5 111)" fill="#7878c2" stroke="#1a1a54" stroke-width="1.2"/><circle cx="322.1" cy="110.7" r="0.8" fill="#0c0c30"/>
<ellipse cx="322.5" cy="119" rx="3.5" ry="5" transform="rotate(-21 322.5 119)" fill="#5c5cae" stroke="#1a1a54" stroke-width="1.2"/><circle cx="322.3" cy="119.7" r="1.2" fill="#0c0c30"/>
<ellipse cx="325" cy="126.5" rx="4.5" ry="5" transform="rotate(37 325 126.5)" fill="#5c5cae" stroke="#1a1a54" stroke-width="1.2"/><circle cx="325.4" cy="126.1" r="1.5" fill="#0c0c30"/>
<ellipse cx="331" cy="131" rx="5.5" ry="5" transform="rotate(-20 331 131)" fill="#7878c2" stroke="#1a1a54" stroke-width="1.2"/><circle cx="331.3" cy="130.4" r="1.7" fill="#0c0c30"/>
<ellipse cx="336" cy="135" rx="4" ry="4.5" transform="rotate(5 336 135)" fill="#7878c2" stroke="#1a1a54" stroke-width="1.2"/><circle cx="335.2" cy="135.0" r="1.3" fill="#0c0c30"/>
<ellipse cx="323" cy="133" rx="3.5" ry="4.5" transform="rotate(-18 323 133)" fill="#7878c2" stroke="#1a1a54" stroke-width="1.2"/><circle cx="323.0" cy="133.7" r="1.2" fill="#0c0c30"/>
<ellipse cx="329" cy="138.5" rx="4.5" ry="3.5" transform="rotate(-16 329 138.5)" fill="#5c5cae" stroke="#1a1a54" stroke-width="1.2"/><circle cx="329.5" cy="137.6" r="1.2" fill="#0c0c30"/>
<ellipse cx="352" cy="125" rx="4.5" ry="4" transform="rotate(-27 352 125)" fill="#5c5cae" stroke="#1a1a54" stroke-width="1.2"/><circle cx="352.9" cy="124.5" r="1.3" fill="#0c0c30"/>
<ellipse cx="358" cy="123" rx="5" ry="4" transform="rotate(-22 358 123)" fill="#5c5cae" stroke="#1a1a54" stroke-width="1.2"/><circle cx="357.2" cy="123.9" r="1.3" fill="#0c0c30"/>
<ellipse cx="363.5" cy="125" rx="4.5" ry="5" transform="rotate(33 363.5 125)" fill="#4c4ca0" stroke="#1a1a54" stroke-width="1.2"/><circle cx="363.1" cy="125.4" r="1.5" fill="#0c0c30"/>
<ellipse cx="367" cy="130" rx="5" ry="5" transform="rotate(-35 367 130)" fill="#5c5cae" stroke="#1a1a54" stroke-width="1.2"/><circle cx="367.2" cy="130.2" r="1.7" fill="#0c0c30"/>
<ellipse cx="358" cy="131" rx="5" ry="4" transform="rotate(-28 358 131)" fill="#4c4ca0" stroke="#1a1a54" stroke-width="1.2"/><circle cx="358.7" cy="131.6" r="1.3" fill="#0c0c30"/>
<ellipse cx="356" cy="137.5" rx="4.5" ry="3.5" transform="rotate(25 356 137.5)" fill="#4c4ca0" stroke="#1a1a54" stroke-width="1.2"/><circle cx="356.8" cy="137.2" r="1.2" fill="#0c0c30"/>
<ellipse cx="361.5" cy="101" rx="4" ry="4" transform="rotate(39 361.5 101)" fill="#5c5cae" stroke="#1a1a54" stroke-width="1.2"/><circle cx="360.9" cy="101.6" r="1.3" fill="#0c0c30"/>
<ellipse cx="367" cy="107.5" rx="4" ry="4.5" transform="rotate(38 367 107.5)" fill="#7878c2" stroke="#1a1a54" stroke-width="1.2"/><circle cx="366.3" cy="107.6" r="1.3" fill="#0c0c30"/>
<ellipse cx="374" cy="100" rx="4.5" ry="4" transform="rotate(-36 374 100)" fill="#5c5cae" stroke="#1a1a54" stroke-width="1.2"/><circle cx="374.1" cy="99.2" r="1.3" fill="#0c0c30"/>
<ellipse cx="374" cy="111" rx="4.5" ry="5" transform="rotate(2 374 111)" fill="#7878c2" stroke="#1a1a54" stroke-width="1.2"/><circle cx="375.0" cy="111.2" r="1.5" fill="#0c0c30"/>
<ellipse cx="381" cy="99" rx="4.5" ry="4" transform="rotate(-5 381 99)" fill="#5c5cae" stroke="#1a1a54" stroke-width="1.2"/><circle cx="381.5" cy="98.9" r="1.3" fill="#0c0c30"/>
<ellipse cx="385" cy="110" rx="4" ry="5" transform="rotate(15 385 110)" fill="#7878c2" stroke="#1a1a54" stroke-width="1.2"/><circle cx="384.3" cy="110.5" r="1.3" fill="#0c0c30"/>
<ellipse cx="350" cy="97" rx="5" ry="3" transform="rotate(-37 350 97)" fill="#5c5cae" stroke="#1a1a54" stroke-width="1.2"/><circle cx="349.4" cy="96.1" r="1.0" fill="#0c0c30"/>
<ellipse cx="340" cy="95.5" rx="4" ry="2" transform="rotate(-25 340 95.5)" fill="#5c5cae" stroke="#1a1a54" stroke-width="1.2"/><circle cx="340.8" cy="96.5" r="0.7" fill="#0c0c30"/>
<ellipse cx="370" cy="119.5" rx="4.5" ry="4" transform="rotate(9 370 119.5)" fill="#7878c2" stroke="#1a1a54" stroke-width="1.2"/><circle cx="370.2" cy="120.2" r="1.3" fill="#0c0c30"/>
<ellipse cx="377" cy="121" rx="4.5" ry="4.5" transform="rotate(24 377 121)" fill="#5c5cae" stroke="#1a1a54" stroke-width="1.2"/><circle cx="377.6" cy="120.0" r="1.5" fill="#0c0c30"/>
<ellipse cx="383" cy="125" rx="3.5" ry="4.5" transform="rotate(-8 383 125)" fill="#7878c2" stroke="#1a1a54" stroke-width="1.2"/><circle cx="382.5" cy="124.9" r="1.2" fill="#0c0c30"/>
<ellipse cx="321" cy="137.5" rx="2.6" ry="4" transform="rotate(30 321 137.5)" fill="#5c5cae" stroke="#1a1a54" stroke-width="1.2"/><circle cx="320.8" cy="137.6" r="0.9" fill="#0c0c30"/>
<ellipse cx="344.5" cy="146" rx="6" ry="5" transform="rotate(-20 344.5 146)" fill="#7878c2" stroke="#1a1a54" stroke-width="1.2"/><circle cx="344.7" cy="146.9" r="1.7" fill="#0c0c30"/>
<ellipse cx="341.5" cy="154" rx="4.5" ry="6" transform="rotate(9 341.5 154)" fill="#5c5cae" stroke="#1a1a54" stroke-width="1.2"/><circle cx="341.6" cy="154.4" r="1.5" fill="#0c0c30"/>
<ellipse cx="347.5" cy="156" rx="5" ry="6" transform="rotate(-33 347.5 156)" fill="#5c5cae" stroke="#1a1a54" stroke-width="1.2"/><circle cx="347.6" cy="156.0" r="1.7" fill="#0c0c30"/>
<ellipse cx="343.5" cy="164" rx="4.5" ry="6" transform="rotate(-6 343.5 164)" fill="#7878c2" stroke="#1a1a54" stroke-width="1.2"/><circle cx="343.7" cy="164.3" r="1.5" fill="#0c0c30"/>
<ellipse cx="349.5" cy="166" rx="4" ry="6" transform="rotate(10 349.5 166)" fill="#5c5cae" stroke="#1a1a54" stroke-width="1.2"/><circle cx="350.0" cy="165.5" r="1.3" fill="#0c0c30"/>
<ellipse cx="339.5" cy="161.5" rx="2.8" ry="5" transform="rotate(38 339.5 161.5)" fill="#4c4ca0" stroke="#1a1a54" stroke-width="1.2"/><circle cx="339.1" cy="162.3" r="0.9" fill="#0c0c30"/>
<ellipse cx="354" cy="166" rx="4.5" ry="6" transform="rotate(38 354 166)" fill="#7878c2" stroke="#1a1a54" stroke-width="1.2"/><circle cx="353.5" cy="166.7" r="1.5" fill="#0c0c30"/>
<ellipse cx="356.5" cy="159.5" rx="4" ry="4" transform="rotate(-6 356.5 159.5)" fill="#7878c2" stroke="#1a1a54" stroke-width="1.2"/><circle cx="356.8" cy="160.1" r="1.3" fill="#0c0c30"/>
<ellipse cx="361.5" cy="156.5" rx="4" ry="4" transform="rotate(4 361.5 156.5)" fill="#5c5cae" stroke="#1a1a54" stroke-width="1.2"/><circle cx="360.7" cy="156.2" r="1.3" fill="#0c0c30"/>
<ellipse cx="366.5" cy="151" rx="4" ry="4.5" transform="rotate(18 366.5 151)" fill="#7878c2" stroke="#1a1a54" stroke-width="1.2"/><circle cx="367.5" cy="151.7" r="1.3" fill="#0c0c30"/>
<ellipse cx="369.5" cy="145" rx="4" ry="4.5" transform="rotate(1 369.5 145)" fill="#5c5cae" stroke="#1a1a54" stroke-width="1.2"/><circle cx="370.0" cy="145.9" r="1.3" fill="#0c0c30"/>
<ellipse cx="363" cy="139" rx="5" ry="4" transform="rotate(-9 363 139)" fill="#4c4ca0" stroke="#1a1a54" stroke-width="1.2"/><circle cx="363.8" cy="139.2" r="1.3" fill="#0c0c30"/>
<ellipse cx="369" cy="137" rx="4" ry="4" transform="rotate(-6 369 137)" fill="#4c4ca0" stroke="#1a1a54" stroke-width="1.2"/><circle cx="369.4" cy="136.4" r="1.3" fill="#0c0c30"/>
<ellipse cx="377.5" cy="140" rx="5" ry="7" transform="rotate(10 377.5 140)" fill="#7878c2" stroke="#1a1a54" stroke-width="1.2"/><circle cx="378.0" cy="140.8" r="1.7" fill="#0c0c30"/>
<ellipse cx="372.5" cy="162" rx="4.5" ry="5" transform="rotate(34 372.5 162)" fill="#5c5cae" stroke="#1a1a54" stroke-width="1.2"/><circle cx="373.4" cy="162.2" r="1.5" fill="#0c0c30"/>
<ellipse cx="380" cy="159" rx="5" ry="5" transform="rotate(16 380 159)" fill="#7878c2" stroke="#1a1a54" stroke-width="1.2"/><circle cx="380.8" cy="158.4" r="1.7" fill="#0c0c30"/>
<ellipse cx="384.5" cy="166.5" rx="4" ry="5" transform="rotate(4 384.5 166.5)" fill="#5c5cae" stroke="#1a1a54" stroke-width="1.2"/><circle cx="384.5" cy="167.2" r="1.3" fill="#0c0c30"/>
<ellipse cx="377" cy="170" rx="4.5" ry="4" transform="rotate(-34 377 170)" fill="#5c5cae" stroke="#1a1a54" stroke-width="1.2"/><circle cx="377.0" cy="169.9" r="1.3" fill="#0c0c30"/>
<ellipse cx="364" cy="169" rx="5" ry="5" transform="rotate(-3 364 169)" fill="#5c5cae" stroke="#1a1a54" stroke-width="1.2"/><circle cx="363.6" cy="168.2" r="1.7" fill="#0c0c30"/>
<ellipse cx="330" cy="174.5" rx="5" ry="2.5" transform="rotate(-4 330 174.5)" fill="#7878c2" stroke="#1a1a54" stroke-width="1.2"/><circle cx="330.8" cy="174.1" r="0.8" fill="#0c0c30"/>
<ellipse cx="385" cy="98" rx="4.5" ry="4" transform="rotate(-36 385 98)" fill="#5c5cae" stroke="#1a1a54" stroke-width="1.2"/><circle cx="385.6" cy="97.0" r="1.3" fill="#0c0c30"/>
<ellipse cx="394" cy="100" rx="4.5" ry="4" transform="rotate(-19 394 100)" fill="#4c4ca0" stroke="#1a1a54" stroke-width="1.2"/><circle cx="393.6" cy="99.1" r="1.3" fill="#0c0c30"/>
<ellipse cx="403" cy="98" rx="4" ry="3.5" transform="rotate(26 403 98)" fill="#5c5cae" stroke="#1a1a54" stroke-width="1.2"/><circle cx="403.5" cy="97.5" r="1.2" fill="#0c0c30"/>
<ellipse cx="409" cy="98.7" rx="4" ry="4" transform="rotate(25 409 98.7)" fill="#5c5cae" stroke="#1a1a54" stroke-width="1.2"/><circle cx="408.6" cy="97.9" r="1.3" fill="#0c0c30"/>
<ellipse cx="417" cy="99.5" rx="4.5" ry="4" transform="rotate(-5 417 99.5)" fill="#7878c2" stroke="#1a1a54" stroke-width="1.2"/><circle cx="416.2" cy="99.1" r="1.3" fill="#0c0c30"/>
<ellipse cx="427.6" cy="98.7" rx="4.5" ry="4" transform="rotate(-7 427.6 98.7)" fill="#5c5cae" stroke="#1a1a54" stroke-width="1.2"/><circle cx="427.5" cy="97.7" r="1.3" fill="#0c0c30"/>
<ellipse cx="436" cy="99" rx="4" ry="4" transform="rotate(-3 436 99)" fill="#4c4ca0" stroke="#1a1a54" stroke-width="1.2"/><circle cx="436.7" cy="98.1" r="1.3" fill="#0c0c30"/>
<ellipse cx="444.9" cy="103.6" rx="5" ry="5.5" transform="rotate(-32 444.9 103.6)" fill="#7878c2" stroke="#1a1a54" stroke-width="1.2"/><circle cx="444.1" cy="103.1" r="1.7" fill="#0c0c30"/>
<ellipse cx="452" cy="99.5" rx="4" ry="5" transform="rotate(13 452 99.5)" fill="#5c5cae" stroke="#1a1a54" stroke-width="1.2"/><circle cx="451.2" cy="99.8" r="1.3" fill="#0c0c30"/>
<ellipse cx="451.5" cy="114.3" rx="4" ry="6" transform="rotate(-7 451.5 114.3)" fill="#7878c2" stroke="#1a1a54" stroke-width="1.2"/><circle cx="452.2" cy="113.6" r="1.3" fill="#0c0c30"/>
<ellipse cx="452" cy="132" rx="4" ry="7" transform="rotate(15 452 132)" fill="#4c4ca0" stroke="#1a1a54" stroke-width="1.2"/><circle cx="452.3" cy="131.4" r="1.3" fill="#0c0c30"/>
<ellipse cx="451" cy="148" rx="4" ry="6" transform="rotate(-6 451 148)" fill="#5c5cae" stroke="#1a1a54" stroke-width="1.2"/><circle cx="451.3" cy="148.1" r="1.3" fill="#0c0c30"/>
<ellipse cx="445.7" cy="160.3" rx="4" ry="8" transform="rotate(-4 445.7 160.3)" fill="#7878c2" stroke="#1a1a54" stroke-width="1.2"/><circle cx="445.9" cy="160.6" r="1.3" fill="#0c0c30"/>
<ellipse cx="437.5" cy="170" rx="6" ry="4.5" transform="rotate(-28 437.5 170)" fill="#4c4ca0" stroke="#1a1a54" stroke-width="1.2"/><circle cx="438.2" cy="170.3" r="1.5" fill="#0c0c30"/>
<ellipse cx="421.9" cy="169.5" rx="6" ry="4.5" transform="rotate(-21 421.9 169.5)" fill="#4c4ca0" stroke="#1a1a54" stroke-width="1.2"/><circle cx="422.5" cy="170.2" r="1.5" fill="#0c0c30"/>
<ellipse cx="407" cy="171" rx="6" ry="4" transform="rotate(31 407 171)" fill="#5c5cae" stroke="#1a1a54" stroke-width="1.2"/><circle cx="407.4" cy="170.5" r="1.3" fill="#0c0c30"/>
<ellipse cx="398" cy="167" rx="5" ry="5" transform="rotate(-19 398 167)" fill="#4c4ca0" stroke="#1a1a54" stroke-width="1.2"/><circle cx="399.0" cy="166.8" r="1.7" fill="#0c0c30"/>
<ellipse cx="387.4" cy="168" rx="5" ry="5" transform="rotate(36 387.4 168)" fill="#7878c2" stroke="#1a1a54" stroke-width="1.2"/><circle cx="387.3" cy="167.7" r="1.7" fill="#0c0c30"/>
<ellipse cx="381.6" cy="157" rx="4" ry="4" transform="rotate(-23 381.6 157)" fill="#7878c2" stroke="#1a1a54" stroke-width="1.2"/><circle cx="380.7" cy="156.5" r="1.3" fill="#0c0c30"/>
<ellipse cx="432.6" cy="165" rx="4" ry="5" transform="rotate(25 432.6 165)" fill="#5c5cae" stroke="#1a1a54" stroke-width="1.2"/><circle cx="432.6" cy="165.4" r="1.3" fill="#0c0c30"/>
<ellipse cx="448" cy="170.5" rx="5" ry="4" transform="rotate(-24 448 170.5)" fill="#5c5cae" stroke="#1a1a54" stroke-width="1.2"/><circle cx="447.2" cy="170.8" r="1.3" fill="#0c0c30"/>
<path d="M320.8,172.5 L335.5,138.5" stroke="#1a1a54" stroke-width="7" stroke-linecap="round" fill="none"/>
<path d="M320.8,172.5 L335.5,138.5" stroke="#5c5cae" stroke-width="4.4" stroke-linecap="round" fill="none"/>
<path d="M319.6,170 L321,146" stroke="#1a1a54" stroke-width="3" stroke-linecap="round" fill="none"/>
<ellipse cx="414.5" cy="136" rx="29.5" ry="30" fill="#f6e21e"/>
<polygon points="445.2,141.5 442.2,141.9 438.2,137.8 437.1,134.4 443.6,133.1 445.9,136.6" fill="#c8801c" stroke="#3a2a08" stroke-width="0.9" stroke-linejoin="round"/><circle cx="443.0" cy="137.3" r="1.4" fill="#140c04"/>
<polygon points="445.6,146.9 443.6,149.9 437.6,151.5 435.2,150.1 436.7,144.7 440.8,142.8" fill="#c8801c" stroke="#3a2a08" stroke-width="0.9" stroke-linejoin="round"/><circle cx="439.3" cy="147.4" r="1.4" fill="#140c04"/>
<polygon points="435.4,160.5 430.7,159.4 428.8,156.4 429.6,151.7 433.8,152.1 438.3,156.6" fill="#f6e21e" stroke="#3a2a08" stroke-width="0.9" stroke-linejoin="round"/><circle cx="432.7" cy="156.7" r="1.4" fill="#140c04"/>
<polygon points="429.8,165.5 424.8,164.0 421.8,160.9 422.5,155.7 428.7,156.8 430.5,160.1" fill="#f6e21e" stroke="#3a2a08" stroke-width="0.9" stroke-linejoin="round"/><circle cx="426.5" cy="159.6" r="1.4" fill="#140c04"/>
<polygon points="416.9,162.1 415.1,165.8 410.4,166.6 406.4,162.0 409.2,159.5 413.9,158.8" fill="#fcec3c" stroke="#3a2a08" stroke-width="0.9" stroke-linejoin="round"/><circle cx="410.9" cy="162.7" r="1.4" fill="#140c04"/>
<polygon points="402.9,164.4 400.6,165.0 396.5,158.9 397.8,155.5 403.4,156.3 405.1,160.6" fill="#f6e21e" stroke="#3a2a08" stroke-width="0.9" stroke-linejoin="round"/><circle cx="400.0" cy="160.0" r="1.4" fill="#140c04"/>
<polygon points="398.6,150.8 401.3,156.3 398.2,159.3 393.6,161.5 392.5,155.1 394.1,152.7" fill="#c8801c" stroke="#3a2a08" stroke-width="0.9" stroke-linejoin="round"/><circle cx="396.8" cy="157.0" r="1.4" fill="#140c04"/>
<polygon points="392.9,144.1 394.4,149.5 388.9,152.3 385.5,150.1 385.2,145.9 389.3,142.7" fill="#c8801c" stroke="#3a2a08" stroke-width="0.9" stroke-linejoin="round"/><circle cx="389.7" cy="147.1" r="1.4" fill="#140c04"/>
<polygon points="392.0,138.1 390.0,139.8 383.5,140.9 381.0,138.2 385.4,132.9 389.3,132.6" fill="#c8801c" stroke="#3a2a08" stroke-width="0.9" stroke-linejoin="round"/><circle cx="386.6" cy="136.7" r="1.4" fill="#140c04"/>
<polygon points="393.3,128.1 387.9,127.5 385.3,124.4 386.5,119.1 392.6,120.2 394.2,125.2" fill="#f0d020" stroke="#3a2a08" stroke-width="0.9" stroke-linejoin="round"/><circle cx="390.1" cy="124.6" r="1.4" fill="#140c04"/>
<polygon points="396.0,114.5 397.3,118.5 394.0,123.1 390.5,122.3 389.5,118.3 391.2,115.5" fill="#f6e21e" stroke="#3a2a08" stroke-width="0.9" stroke-linejoin="round"/><circle cx="392.3" cy="118.7" r="1.4" fill="#140c04"/>
<polygon points="409.6,107.4 409.4,112.2 406.4,115.4 401.5,112.1 401.9,107.8 407.5,105.8" fill="#f6e21e" stroke="#3a2a08" stroke-width="0.9" stroke-linejoin="round"/><circle cx="405.2" cy="109.8" r="1.4" fill="#140c04"/>
<polygon points="422.0,112.4 418.2,114.2 413.7,110.0 413.9,105.9 418.2,104.3 421.7,107.7" fill="#c8801c" stroke="#3a2a08" stroke-width="0.9" stroke-linejoin="round"/><circle cx="418.0" cy="109.7" r="1.4" fill="#140c04"/>
<polygon points="426.1,114.3 422.2,114.5 419.3,111.3 419.7,106.8 424.7,106.9 427.1,109.7" fill="#c8801c" stroke="#3a2a08" stroke-width="0.9" stroke-linejoin="round"/><circle cx="422.3" cy="109.3" r="1.4" fill="#140c04"/>
<polygon points="440.3,117.2 439.3,121.4 432.8,122.6 431.4,120.2 432.9,115.2 439.1,114.9" fill="#f6e21e" stroke="#3a2a08" stroke-width="0.9" stroke-linejoin="round"/><circle cx="435.0" cy="118.0" r="1.4" fill="#140c04"/>
<polygon points="446.9,128.8 443.6,132.3 437.4,131.9 435.8,128.2 438.7,124.5 444.6,126.3" fill="#fcec3c" stroke="#3a2a08" stroke-width="0.9" stroke-linejoin="round"/><circle cx="441.7" cy="128.1" r="1.4" fill="#140c04"/>
<polygon points="437.3,138.0 434.6,140.1 429.8,138.7 427.5,134.5 429.9,131.1 435.3,131.7" fill="#c8801c" stroke="#3a2a08" stroke-width="0.9" stroke-linejoin="round"/><circle cx="432.1" cy="136.3" r="1.4" fill="#140c04"/>
<polygon points="434.1,146.3 430.9,151.0 426.9,151.4 422.6,148.4 425.5,144.5 431.9,143.3" fill="#fcec3c" stroke="#3a2a08" stroke-width="0.9" stroke-linejoin="round"/><circle cx="427.6" cy="147.9" r="1.4" fill="#140c04"/>
<polygon points="427.9,153.5 423.9,154.7 420.4,151.7 420.8,147.9 422.5,146.6 427.6,147.4" fill="#f6e21e" stroke="#3a2a08" stroke-width="0.9" stroke-linejoin="round"/><circle cx="424.0" cy="151.0" r="1.4" fill="#140c04"/>
<polygon points="414.9,157.7 412.2,158.3 407.8,152.4 409.6,148.7 414.8,149.6 417.9,154.2" fill="#fcec3c" stroke="#3a2a08" stroke-width="0.9" stroke-linejoin="round"/><circle cx="412.0" cy="153.8" r="1.4" fill="#140c04"/>
<polygon points="408.3,147.1 407.6,149.7 403.9,153.5 399.5,153.0 399.7,147.2 402.7,144.9" fill="#f0d020" stroke="#3a2a08" stroke-width="0.9" stroke-linejoin="round"/><circle cx="402.1" cy="149.3" r="1.4" fill="#140c04"/>
<polygon points="402.3,143.4 397.3,145.9 393.8,144.1 392.0,138.8 396.6,137.1 400.6,137.9" fill="#c8801c" stroke="#3a2a08" stroke-width="0.9" stroke-linejoin="round"/><circle cx="396.6" cy="140.9" r="1.4" fill="#140c04"/>
<polygon points="399.1,127.4 401.9,131.9 397.8,137.4 394.3,137.8 392.6,133.9 394.6,128.4" fill="#f0d020" stroke="#3a2a08" stroke-width="0.9" stroke-linejoin="round"/><circle cx="395.9" cy="133.2" r="1.4" fill="#140c04"/>
<polygon points="406.4,120.6 406.4,124.1 402.5,126.9 398.1,126.6 398.3,122.7 402.6,118.5" fill="#fcec3c" stroke="#3a2a08" stroke-width="0.9" stroke-linejoin="round"/><circle cx="403.4" cy="123.1" r="1.4" fill="#140c04"/>
<polygon points="415.7,117.6 414.2,120.4 410.2,123.4 405.7,121.3 407.4,115.9 409.6,114.5" fill="#f0d020" stroke="#3a2a08" stroke-width="0.9" stroke-linejoin="round"/><circle cx="411.0" cy="119.9" r="1.4" fill="#140c04"/>
<polygon points="428.2,125.0 424.9,125.4 419.3,122.2 420.6,116.6 423.9,116.4 428.8,120.1" fill="#f0d020" stroke="#3a2a08" stroke-width="0.9" stroke-linejoin="round"/><circle cx="423.7" cy="120.6" r="1.4" fill="#140c04"/>
<polygon points="433.9,124.5 432.9,129.2 425.3,128.6 423.7,126.5 427.1,121.4 432.1,121.4" fill="#f6e21e" stroke="#3a2a08" stroke-width="0.9" stroke-linejoin="round"/><circle cx="428.7" cy="126.2" r="1.4" fill="#140c04"/>
<polygon points="427.7,133.6 426.8,137.5 422.8,140.9 419.2,139.4 417.7,135.3 424.3,131.4" fill="#f6e21e" stroke="#3a2a08" stroke-width="0.9" stroke-linejoin="round"/><circle cx="422.9" cy="136.3" r="1.4" fill="#140c04"/>
<polygon points="423.2,140.2 422.4,143.8 418.0,148.1 413.8,146.4 414.8,142.0 418.8,137.7" fill="#f6e21e" stroke="#3a2a08" stroke-width="0.9" stroke-linejoin="round"/><circle cx="418.3" cy="142.9" r="1.4" fill="#140c04"/>
<polygon points="413.2,139.3 413.9,143.0 409.9,147.0 405.2,145.2 405.4,140.2 410.7,138.6" fill="#f0d020" stroke="#3a2a08" stroke-width="0.9" stroke-linejoin="round"/><circle cx="409.0" cy="142.8" r="1.4" fill="#140c04"/>
<polygon points="410.0,139.1 406.2,141.7 402.2,136.9 402.7,132.9 404.8,131.3 409.0,134.1" fill="#c8801c" stroke="#3a2a08" stroke-width="0.9" stroke-linejoin="round"/><circle cx="405.3" cy="135.6" r="1.4" fill="#140c04"/>
<polygon points="415.1,133.0 410.8,133.7 406.7,130.3 407.3,124.5 411.8,123.4 416.3,128.3" fill="#c8801c" stroke="#3a2a08" stroke-width="0.9" stroke-linejoin="round"/><circle cx="411.6" cy="129.2" r="1.4" fill="#140c04"/>
<polygon points="424.2,125.9 423.0,131.8 420.5,134.7 415.2,132.4 414.4,129.0 418.5,125.5" fill="#f6e21e" stroke="#3a2a08" stroke-width="0.9" stroke-linejoin="round"/><circle cx="418.7" cy="129.3" r="1.4" fill="#140c04"/>
<path d="M412.9,114.3 Q415.3,112.6 418.6,110.5 Q422.0,108.5 425.6,109.0 Q429.3,109.4 431.0,112.2 Q432.6,115.1 429.3,117.2 Q426.0,119.2 421.9,120.1 Q417.8,120.9 414.5,122.6 Q411.2,124.3 409.9,122.4 Q408.5,120.5 409.4,118.2 Q410.4,116.0 412.9,114.3 Z" fill="#e9a92a" fill-opacity="0.55" stroke="#1a0e04" stroke-width="3.3" stroke-linejoin="round"/>
<path d="M412.9,114.3 Q415.3,112.6 418.6,110.5 Q422.0,108.5 425.6,109.0 Q429.3,109.4 431.0,112.2 Q432.6,115.1 429.3,117.2 Q426.0,119.2 421.9,120.1 Q417.8,120.9 414.5,122.6 Q411.2,124.3 409.9,122.4 Q408.5,120.5 409.4,118.2 Q410.4,116.0 412.9,114.3 Z" fill="none" stroke="#fbefb0" stroke-width="1.1" stroke-linejoin="round"/>
<path d="M399.9,138.9 Q399.7,135.6 402.4,133.3 Q405.0,131.0 408.1,130.8 Q411.2,130.7 413.6,132.3 Q416.0,134.0 418.5,135.7 Q421.0,137.3 423.5,139.8 Q426.0,142.2 425.2,144.9 Q424.4,147.6 421.2,146.6 Q418.0,145.5 415.4,143.8 Q412.9,142.2 410.4,143.3 Q408.0,144.5 406.3,145.5 Q404.6,146.5 402.4,144.3 Q400.2,142.2 399.9,138.9 Z" fill="#e9a92a" fill-opacity="0.55" stroke="#1a0e04" stroke-width="3.3" stroke-linejoin="round"/>
<path d="M399.9,138.9 Q399.7,135.6 402.4,133.3 Q405.0,131.0 408.1,130.8 Q411.2,130.7 413.6,132.3 Q416.0,134.0 418.5,135.7 Q421.0,137.3 423.5,139.8 Q426.0,142.2 425.2,144.9 Q424.4,147.6 421.2,146.6 Q418.0,145.5 415.4,143.8 Q412.9,142.2 410.4,143.3 Q408.0,144.5 406.3,145.5 Q404.6,146.5 402.4,144.3 Q400.2,142.2 399.9,138.9 Z" fill="none" stroke="#fbefb0" stroke-width="1.1" stroke-linejoin="round"/>
<path d="M410.4,160.8 Q407.9,158.6 409.7,156.6 Q411.5,154.5 413.8,153.3 Q416.1,152.1 419.4,152.9 Q422.7,153.7 422.6,157.0 Q422.5,160.3 419.8,161.4 Q417.0,162.5 414.9,162.8 Q412.9,163.0 410.4,160.8 Z" fill="#e9a92a" fill-opacity="0.55" stroke="#1a0e04" stroke-width="3.3" stroke-linejoin="round"/>
<path d="M410.4,160.8 Q407.9,158.6 409.7,156.6 Q411.5,154.5 413.8,153.3 Q416.1,152.1 419.4,152.9 Q422.7,153.7 422.6,157.0 Q422.5,160.3 419.8,161.4 Q417.0,162.5 414.9,162.8 Q412.9,163.0 410.4,160.8 Z" fill="none" stroke="#fbefb0" stroke-width="1.1" stroke-linejoin="round"/>
<ellipse cx="434.2" cy="129.5" rx="2.6" ry="6.2" transform="rotate(8 434.2 129.5)" fill="#f6e27a" stroke="#1a0e04" stroke-width="1.5"/>
<ellipse cx="431" cy="148" rx="2.2" ry="4.6" transform="rotate(20 431 148)" fill="#f6e27a" stroke="#1a0e04" stroke-width="1.3"/>
</g></g>
<rect x="318.6" y="94.8" width="136.4" height="80" fill="none" stroke="#000000" stroke-width="1.8"/>
<text x="355.6" y="83.5" font-size="18.5" fill="#140aaa" font-family='"DejaVu Sans", "Liberation Sans", sans-serif' font-weight="normal" textLength="82.8" lengthAdjust="spacingAndGlyphs">Pancreas</text>
<text x="162.2" y="134.0" font-size="12" fill="#990808" font-family='"DejaVu Sans", "Liberation Sans", sans-serif' font-weight="bold" textLength="85.2" lengthAdjust="spacingAndGlyphs">α Islet cells</text>
<text x="574.6" y="130.3" font-size="12" fill="#990808" font-family='"DejaVu Sans", "Liberation Sans", sans-serif' font-weight="bold" textLength="57.2" lengthAdjust="spacingAndGlyphs">PP cells</text>
<text x="284.8" y="240.8" font-size="12" fill="#1c5ce0" font-family='"DejaVu Sans", "Liberation Sans", sans-serif' font-weight="bold" textLength="86.5" lengthAdjust="spacingAndGlyphs">β Islet cells</text>
<text x="446.8" y="240.4" font-size="12" fill="#137313" font-family='"DejaVu Sans", "Liberation Sans", sans-serif' font-weight="bold" textLength="84.5" lengthAdjust="spacingAndGlyphs">δ Islet cells</text>
<path d="M53,283.5 H34.5 V391 H43 M34.5,333.5 H43" fill="none" stroke="#ff0000" stroke-width="3" stroke-linejoin="miter"/>
<polygon points="41.2,327.8 41.2,339.2 52.2,333.5" fill="#ff0000"/>
<polygon points="41.2,385.3 41.2,396.7 52.2,391.0" fill="#ff0000"/>
<path d="M238,284 H219.95 V522.5 H229 M219.95,326.2 H229 M219.95,375 H229 M219.95,424.2 H229 M219.95,473.5 H229" fill="none" stroke="#1c58dc" stroke-width="3.7" stroke-linejoin="miter"/>
<polygon points="226.2,320.5 226.2,331.9 237.2,326.2" fill="#1e5ae0"/>
<polygon points="226.2,369.3 226.2,380.7 237.2,375.0" fill="#1e5ae0"/>
<polygon points="226.2,418.5 226.2,429.9 237.2,424.2" fill="#1e5ae0"/>
<polygon points="226.2,467.8 226.2,479.2 237.2,473.5" fill="#1e5ae0"/>
<polygon points="226.2,516.8 226.2,528.2 237.2,522.5" fill="#1e5ae0"/>
<path d="M447,283.55 H428.6 V335 H437" fill="none" stroke="#16a52c" stroke-width="3" stroke-linejoin="miter"/>
<polygon points="435.3,329.3 435.3,340.7 446.3,335.0" fill="#16a52c"/>
<path d="M628,296.8 H610.7 V377.4 H619" fill="none" stroke="#a65c02" stroke-width="3.2" stroke-linejoin="miter"/>
<polygon points="616.5,371.7 616.5,383.1 627.5,377.4" fill="#a65c02"/>
<rect x="52.90" y="272.90" width="147.30" height="22.50" fill="#ffcc99" stroke="#ff0000" stroke-width="1.8"/>
<text x="83.3" y="291.2" font-size="18.3" fill="#a01818" font-family='"DejaVu Sans", "Liberation Sans", sans-serif' font-weight="normal" textLength="84.7" lengthAdjust="spacingAndGlyphs">Glucagon</text>
<rect x="52.90" y="307.80" width="147.30" height="51.30" fill="#ffcc99" stroke="#ff0000" stroke-width="1.8"/>
<text x="55.0" y="322.1" font-size="12" fill="#980c0c" font-family='"DejaVu Sans", "Liberation Sans", sans-serif' font-weight="normal" textLength="97.7" lengthAdjust="spacingAndGlyphs">Break-down of</text>
<text x="55.2" y="337.6" font-size="12" fill="#980c0c" font-family='"DejaVu Sans", "Liberation Sans", sans-serif' font-weight="normal" textLength="134.8" lengthAdjust="spacingAndGlyphs">glycogen in the liver</text>
<text x="55.2" y="354.1" font-size="12" fill="#980c0c" font-family='"DejaVu Sans", "Liberation Sans", sans-serif' font-weight="normal" textLength="82.3" lengthAdjust="spacingAndGlyphs">and muscles</text>
<rect x="52.90" y="372.90" width="147.30" height="36.50" fill="#ffcc99" stroke="#ff0000" stroke-width="1.8"/>
<text x="55.2" y="386.9" font-size="12" fill="#980c0c" font-family='"DejaVu Sans", "Liberation Sans", sans-serif' font-weight="normal" textLength="138.1" lengthAdjust="spacingAndGlyphs">Increase the glucose</text>
<text x="59.5" y="402.5" font-size="12" fill="#980c0c" font-family='"DejaVu Sans", "Liberation Sans", sans-serif' font-weight="normal" textLength="114.7" lengthAdjust="spacingAndGlyphs">level in the blood</text>
<rect x="237.85" y="272.90" width="172.55" height="22.50" fill="#a0d0ff" stroke="#0606b2" stroke-width="1.8"/>
<text x="292.2" y="291.0" font-size="18.3" fill="#0c2c8c" font-family='"DejaVu Sans", "Liberation Sans", sans-serif' font-weight="normal" textLength="63.0" lengthAdjust="spacingAndGlyphs">Insulin</text>
<rect x="237.85" y="307.80" width="172.45" height="36.30" fill="#a0d0ff" stroke="#0606b2" stroke-width="1.8"/>
<text x="239.7" y="321.7" font-size="12" fill="#0a0aa8" font-family='"DejaVu Sans", "Liberation Sans", sans-serif' font-weight="normal" textLength="160.9" lengthAdjust="spacingAndGlyphs">Increase the membrane</text>
<text x="239.7" y="337.7" font-size="12" fill="#0a0aa8" font-family='"DejaVu Sans", "Liberation Sans", sans-serif' font-weight="normal" textLength="161.5" lengthAdjust="spacingAndGlyphs">permeability for glucose</text>
<rect x="237.85" y="356.90" width="140.15" height="36.30" fill="#a0d0ff" stroke="#0606b2" stroke-width="1.8"/>
<text x="240.5" y="371.9" font-size="12" fill="#0a0aa8" font-family='"DejaVu Sans", "Liberation Sans", sans-serif' font-weight="normal" textLength="119.1" lengthAdjust="spacingAndGlyphs">Excessive glucose</text>
<text x="240.5" y="387.8" font-size="12" fill="#0a0aa8" font-family='"DejaVu Sans", "Liberation Sans", sans-serif' font-weight="normal" textLength="128.8" lengthAdjust="spacingAndGlyphs">oxidation in tissues</text>
<rect x="237.85" y="405.90" width="150.55" height="36.30" fill="#a0d0ff" stroke="#0606b2" stroke-width="1.8"/>
<text x="239.7" y="420.9" font-size="12" fill="#0a0aa8" font-family='"DejaVu Sans", "Liberation Sans", sans-serif' font-weight="normal" textLength="142.1" lengthAdjust="spacingAndGlyphs">Lowering the glucose</text>
<text x="245.2" y="437.2" font-size="12" fill="#0a0aa8" font-family='"DejaVu Sans", "Liberation Sans", sans-serif' font-weight="normal" textLength="114.4" lengthAdjust="spacingAndGlyphs">level in the blood</text>
<rect x="237.85" y="455.10" width="172.35" height="36.10" fill="#a0d0ff" stroke="#0606b2" stroke-width="1.8"/>
<text x="239.7" y="470.0" font-size="12" fill="#0a0aa8" font-family='"DejaVu Sans", "Liberation Sans", sans-serif' font-weight="normal" textLength="162.3" lengthAdjust="spacingAndGlyphs">Synthesis of glycogen in</text>
<text x="245.2" y="486.0" font-size="12" fill="#0a0aa8" font-family='"DejaVu Sans", "Liberation Sans", sans-serif' font-weight="normal" textLength="142.1" lengthAdjust="spacingAndGlyphs">the liver and muscles</text>
<rect x="237.85" y="504.00" width="149.35" height="36.90" fill="#a0d0ff" stroke="#0606b2" stroke-width="1.8"/>
<text x="239.7" y="519.2" font-size="12" fill="#0a0aa8" font-family='"DejaVu Sans", "Liberation Sans", sans-serif' font-weight="normal" textLength="137.9" lengthAdjust="spacingAndGlyphs">Lowering the protein</text>
<text x="239.7" y="535.0" font-size="12" fill="#0a0aa8" font-family='"DejaVu Sans", "Liberation Sans", sans-serif' font-weight="normal" textLength="78.9" lengthAdjust="spacingAndGlyphs">break-down</text>
<rect x="446.90" y="272.90" width="145.40" height="22.50" fill="#a0ffa0" stroke="#067078" stroke-width="1.8"/>
<text x="457.5" y="290.9" font-size="18.3" fill="#208020" font-family='"DejaVu Sans", "Liberation Sans", sans-serif' font-weight="normal" textLength="123.4" lengthAdjust="spacingAndGlyphs">Somatostatin</text>
<rect x="446.90" y="307.90" width="145.40" height="54.20" fill="#a0ffa0" stroke="#067078" stroke-width="1.8"/>
<text x="448.8" y="324.0" font-size="12" fill="#1c7a1c" font-family='"DejaVu Sans", "Liberation Sans", sans-serif' font-weight="normal" textLength="133.2" lengthAdjust="spacingAndGlyphs">Inhibition of release</text>
<text x="448.8" y="339.8" font-size="12" fill="#1c7a1c" font-family='"DejaVu Sans", "Liberation Sans", sans-serif' font-weight="normal" textLength="119.4" lengthAdjust="spacingAndGlyphs">of gastrointestinal</text>
<text x="448.8" y="355.7" font-size="12" fill="#1c7a1c" font-family='"DejaVu Sans", "Liberation Sans", sans-serif' font-weight="normal" textLength="65.3" lengthAdjust="spacingAndGlyphs">hormones</text>
<rect x="627.80" y="272.90" width="133.50" height="48.30" fill="#fff596" stroke="#aa9600" stroke-width="1.8"/>
<text x="643.0" y="293.2" font-size="18.3" fill="#a50f19" font-family='"DejaVu Sans", "Liberation Sans", sans-serif' font-weight="normal" textLength="95.5" lengthAdjust="spacingAndGlyphs">Pancreatic</text>
<text x="641.4" y="315.3" font-size="18.3" fill="#a50f19" font-family='"DejaVu Sans", "Liberation Sans", sans-serif' font-weight="normal" textLength="106.1" lengthAdjust="spacingAndGlyphs">polypeptide</text>
<rect x="627.80" y="333.90" width="133.50" height="86.00" fill="#fff596" stroke="#aa9600" stroke-width="1.8"/>
<text x="629.9" y="349.3" font-size="12" fill="#0c6c50" font-family='"DejaVu Sans", "Liberation Sans", sans-serif' font-weight="normal" textLength="110.5" lengthAdjust="spacingAndGlyphs">Self regulate the</text>
<text x="629.9" y="365.4" font-size="12" fill="#0c6c50" font-family='"DejaVu Sans", "Liberation Sans", sans-serif' font-weight="normal" textLength="124.7" lengthAdjust="spacingAndGlyphs">pancreas secretion</text>
<text x="634.4" y="381.3" font-size="12" fill="#0c6c50" font-family='"DejaVu Sans", "Liberation Sans", sans-serif' font-weight="normal" textLength="88.0" lengthAdjust="spacingAndGlyphs">activities and</text>
<text x="629.9" y="397.0" font-size="12" fill="#0c6c50" font-family='"DejaVu Sans", "Liberation Sans", sans-serif' font-weight="normal" textLength="117.0" lengthAdjust="spacingAndGlyphs">effect the hepatic</text>
<text x="629.9" y="412.7" font-size="12" fill="#0c6c50" font-family='"DejaVu Sans", "Liberation Sans", sans-serif' font-weight="normal" textLength="101.5" lengthAdjust="spacingAndGlyphs">glycogen levels</text>
</svg>
</body>
</html>
